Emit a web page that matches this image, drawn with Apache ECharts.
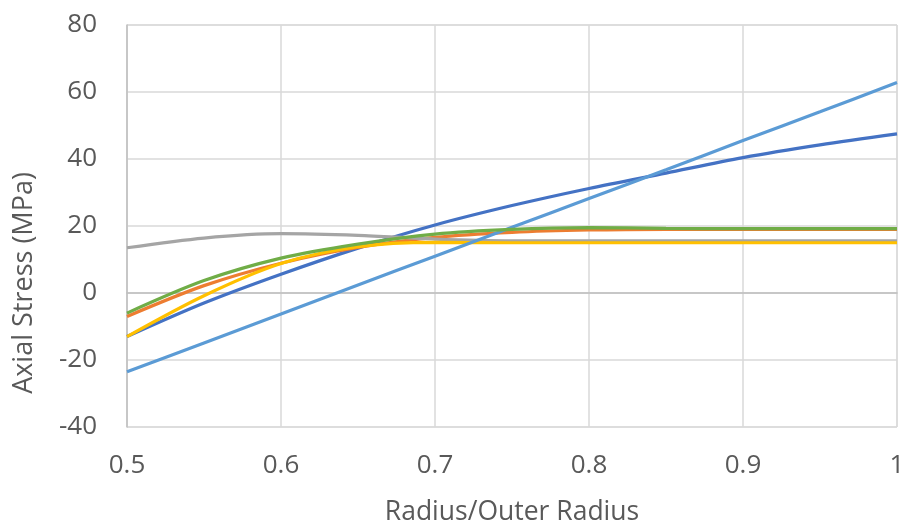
<!DOCTYPE html>
<html>
<head>
<meta charset="utf-8">
<script src="https://cdn.jsdelivr.net/npm/echarts@6/dist/echarts.min.js"></script>
<style>
  html, body { margin: 0; padding: 0; background: #fff; }
  #chart { width: 906px; height: 529px; }
</style>
</head>
<body>
<div id="chart"></div>
<script>
// Radius ratio sample positions
const radiusRatio = [0.5, 0.55, 0.6, 0.65, 0.7, 0.75, 0.8, 0.85, 0.9, 0.95, 1.0];

// Axial stress (MPa) at each radius ratio
const stressDarkBlue = [-13, -3, 5.6, 13.4, 20.3, 26.1, 31.2, 35.8, 40.4, 44.2, 47.5];
const stressOrange   = [-7, 2.2, 8.9, 13.6, 16.6, 18.1, 18.8, 19.0, 19.0, 19.0, 19.0];
const stressGray     = [13.5, 16.4, 17.7, 17.2, 16.1, 15.6, 15.6, 15.6, 15.6, 15.6, 15.6];
const stressYellow   = [-13, -0.8, 8.8, 13.8, 15.1, 15.0, 15.0, 15.0, 15.0, 15.0, 15.0];
const stressLightBlue= [-23.5, -14.9, -6.3, 2.4, 11.0, 19.6, 28.2, 36.8, 45.5, 54.1, 62.8];
const stressGreen    = [-6, 3.7, 10.4, 14.6, 17.6, 19.0, 19.5, 19.3, 19.2, 19.2, 19.2];

const xTicks = { min: 0.5, max: 1, interval: 0.1 };
const yTicks = { min: -40, max: 80, interval: 20 };

const seriesDefs = [
  { name: 'A', color: '#4472C4', values: stressDarkBlue },
  { name: 'B', color: '#ED7D31', values: stressOrange },
  { name: 'C', color: '#A5A5A5', values: stressGray },
  { name: 'D', color: '#FFC000', values: stressYellow },
  { name: 'E', color: '#5B9BD5', values: stressLightBlue },
  { name: 'F', color: '#70AD47', values: stressGreen }
];

const fontFamily = 'Open Sans, Noto Sans, sans-serif';
const chart = echarts.init(document.getElementById('chart'), null, { renderer: 'canvas' });

chart.setOption({
  animation: false,
  backgroundColor: '#fff',
  grid: {
    left: 127, right: 9, top: 25, bottom: 102,
    outerBoundsMode: 'none', containLabel: false,
    show: true, borderColor: '#d9d9d9', borderWidth: 1
  },
  xAxis: {
    type: 'value',
    min: xTicks.min, max: xTicks.max, interval: xTicks.interval,
    name: 'Radius/Outer Radius',
    nameLocation: 'middle',
    nameGap: 72,
    nameTextStyle: { fontFamily, fontSize: 26.5, color: '#595959' },
    axisLine: { show: true, lineStyle: { color: '#bfbfbf', width: 1.5 } },
    axisTick: { show: false },
    splitLine: { show: true, lineStyle: { color: '#d9d9d9', width: 1.5 } },
    axisLabel: {
      fontFamily, fontSize: 26, color: '#595959', margin: 26,
      formatter: v => (Math.abs(v - 1) < 1e-9 ? '1' : v.toFixed(1))
    }
  },
  yAxis: {
    type: 'value',
    min: yTicks.min, max: yTicks.max, interval: yTicks.interval,
    name: 'Axial Stress (MPa)',
    nameLocation: 'middle',
    nameGap: 89,
    // extra right padding pushes the rotated title further down the axis
    nameTextStyle: { fontFamily, fontSize: 27, color: '#595959', padding: [0, 114, 0, 0] },
    axisLine: { show: true, lineStyle: { color: '#bfbfbf', width: 1.5 } },
    axisTick: { show: false },
    splitLine: { show: true, lineStyle: { color: '#d9d9d9', width: 1.5 } },
    axisLabel: { fontFamily, fontSize: 26, color: '#595959', margin: 30 }
  },
  series: seriesDefs.map(s => ({
    name: s.name,
    type: 'line',
    smooth: 0.3,
    symbol: 'none',
    data: radiusRatio.map((x, i) => [x, s.values[i]]),
    lineStyle: { color: s.color, width: 3.2 },
    itemStyle: { color: s.color }
  }))
});
</script>
</body>
</html>
